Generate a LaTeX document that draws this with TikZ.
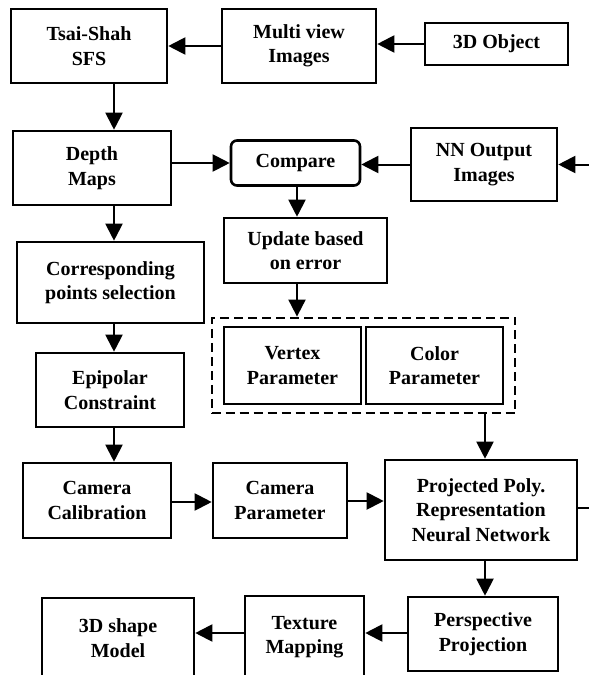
\documentclass[tikz,border=0pt]{standalone}
\usepackage{fontspec}
\setmainfont{Liberation Serif}
\usetikzlibrary{arrows.meta,fit,calc}
\begin{document}
\begin{tikzpicture}[x=1pt,y=-1pt,
  box/.style={draw,line width=2.6pt,align=center,inner sep=2pt,
    font=\fontsize{20}{24.5}\selectfont\bfseries},
  rbox/.style={box,rounded corners=6pt},
  conn/.style={line width=2pt,-{Triangle[length=17pt,width=17pt]}},
  plain/.style={line width=2pt},
  grp/.style={draw,dashed,dash pattern=on 9pt off 5pt,line width=2.2pt}]
\clip (0,0) rectangle (589,675);
\fill[white] (0,0) rectangle (589,675);
% nodes
\node[box,minimum width=156pt,minimum height=74pt] (tsai) at (89,46) {Tsai-Shah\\SFS};
\node[box,minimum width=154pt,minimum height=74pt] (multi) at (299,46) {Multi view\\Images};
\node[box,minimum width=143pt,minimum height=42pt] (obj) at (496.5,44) {3D Object};
\node[box,minimum width=158pt,minimum height=74pt] (depth) at (92,168) {Depth\\Maps};
\node[rbox,minimum width=129pt,minimum height=45pt] (compare) at (295.5,163) {Compare};
\node[box,minimum width=146pt,minimum height=73pt] (nn) at (484,164.5) {NN Output\\Images};
\node[box,minimum width=163pt,minimum height=65pt] (update) at (305.5,250.5) {Update based\\on error};
\node[box,minimum width=187pt,minimum height=81pt] (corr) at (110.5,282.5) {Corresponding\\points selection};
\node[box,minimum width=148pt,minimum height=74pt] (epi) at (110,390) {Epipolar\\Constraint};
\node[box,minimum width=137pt,minimum height=77pt] (vertex) at (292.5,365.5) {Vertex\\Parameter};
\node[box,minimum width=137pt,minimum height=77pt] (color) at (434.5,365.5) {Color\\Parameter};
\node[grp,fit=(vertex)(color),inner xsep=11pt,inner ysep=8pt] (grp) {};
\node[box,minimum width=148pt,minimum height=75pt] (cc) at (97,500.5) {Camera\\Calibration};
\node[box,minimum width=134pt,minimum height=75pt] (cp) at (280,500.5) {Camera\\Parameter};
\node[box,minimum width=192pt,minimum height=100pt] (ppr) at (481,510) {Projected Poly.\\Representation\\Neural Network};
\node[box,minimum width=150pt,minimum height=74pt] (persp) at (483,634) {Perspective\\Projection};
\node[box,minimum width=119pt,minimum height=82pt] (tex) at (304.5,637) {Texture\\Mapping};
\node[box,minimum width=152pt,minimum height=80pt] (shape) at (118,638) {3D shape\\Model};
% helper coordinates
\coordinate (colx) at (114,0);
\coordinate (upx) at (297,0);
\coordinate (rx) at (485,0);
\coordinate (fbin) at (589,164.5);
\coordinate (fbout) at (589,508);
% connectors
\draw[conn] (obj.west) -- (obj.west -| multi.east);
\draw[conn] (multi.west) -- (multi.west -| tsai.east);
\draw[conn] (tsai.south -| colx) -- (depth.north -| colx);
\draw[conn] (depth.south -| colx) -- (corr.north -| colx);
\draw[conn] (corr.south -| colx) -- (epi.north -| colx);
\draw[conn] (epi.south -| colx) -- (cc.north -| colx);
\draw[conn] (compare.west -| depth.east) -- (compare.west);
\draw[conn] (nn.west) -- (nn.west -| compare.east);
\draw[conn] (fbin) -- (nn.east);
\draw[conn] (compare.south -| upx) -- (update.north -| upx);
\draw[conn] (update.south -| upx) -- (grp.north -| upx);
\draw[conn] (grp.south -| rx) -- (ppr.north -| rx);
\draw[conn] (cc.east |- 0,502) -- (cp.west |- 0,502);
\draw[conn] (cp.east |- 0,501) -- (ppr.west |- 0,501);
\draw[plain] (ppr.east |- fbout) -- (fbout);
\draw[conn] (ppr.south -| rx) -- (persp.north -| rx);
\draw[conn] (persp.west |- 0,633) -- (tex.east |- 0,633);
\draw[conn] (tex.west |- 0,633) -- (shape.east |- 0,633);
\end{tikzpicture}
\end{document}
